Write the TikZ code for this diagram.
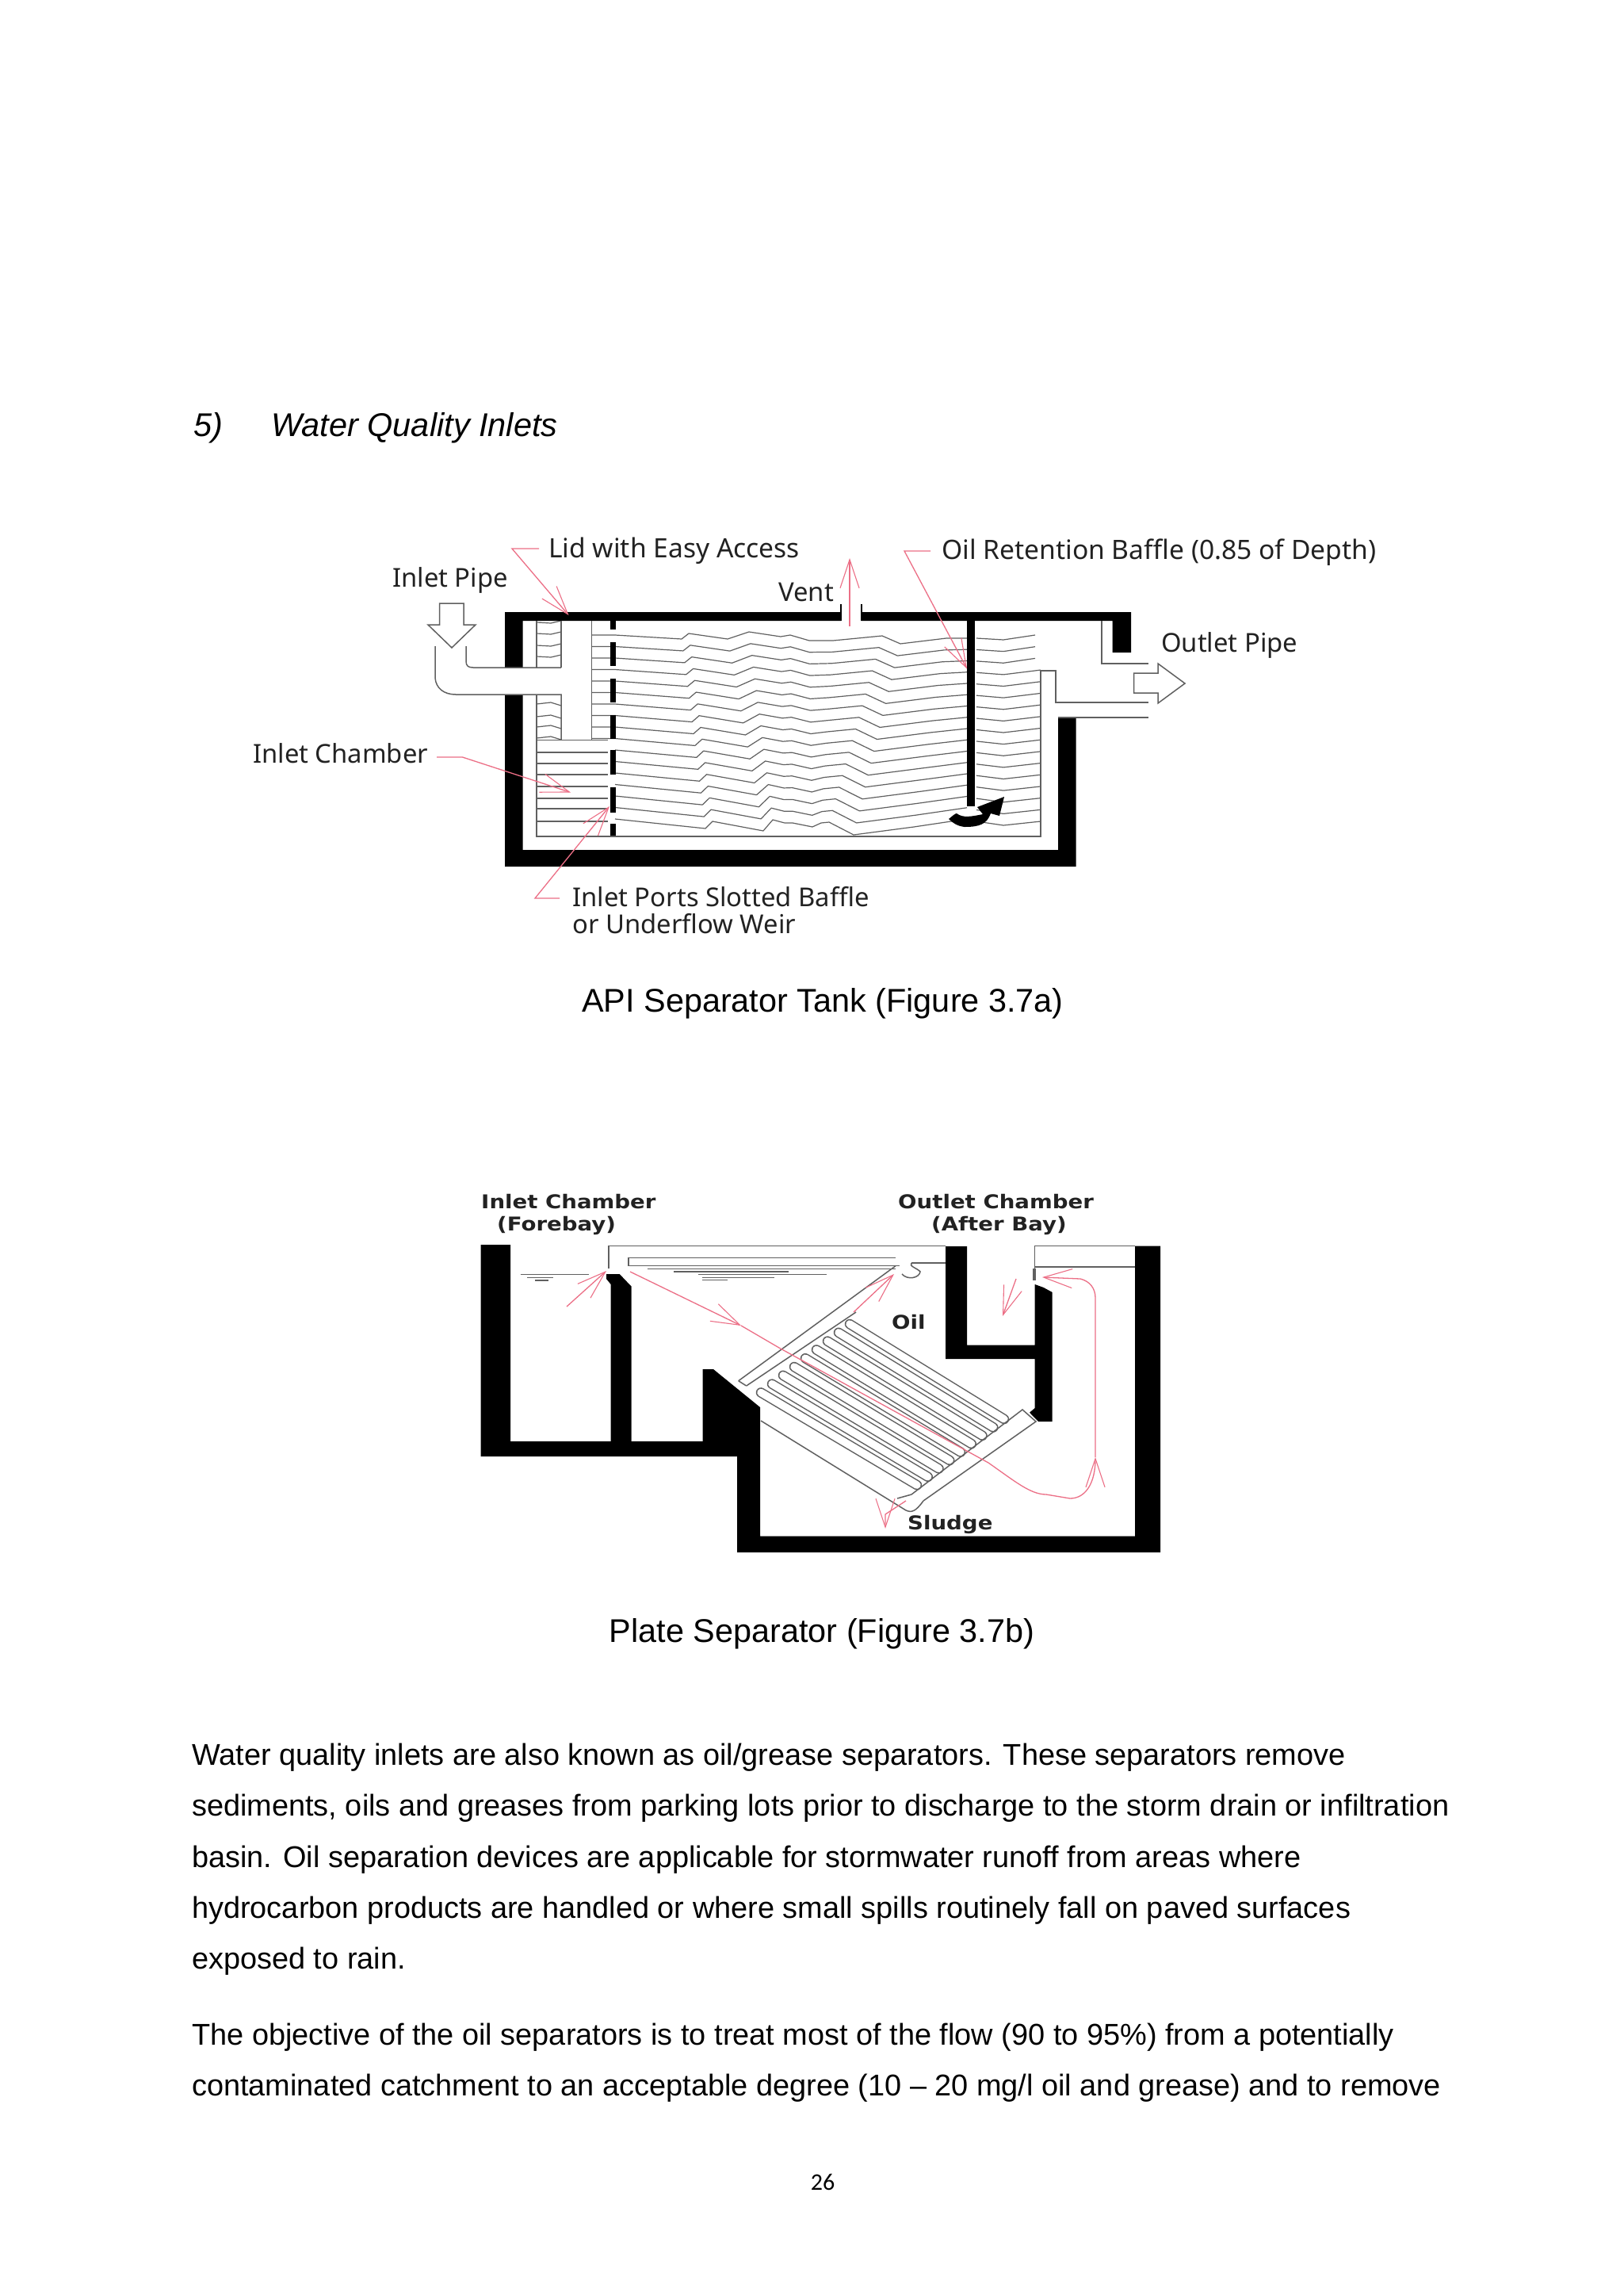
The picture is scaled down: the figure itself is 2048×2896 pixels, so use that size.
\documentclass[tikz,border=0pt]{standalone}
\usepackage{fontspec}
\setmainfont{Liberation Sans}
\newfontfamily\lblfont{Noto Sans}
\newfontfamily\widefont{DejaVu Sans}
\newfontfamily\numfont{Carlito}
\usetikzlibrary{arrows.meta}
\definecolor{flowred}{HTML}{EC6F86}
\definecolor{thinline}{HTML}{606060}
\definecolor{lbl}{HTML}{222222}
\tikzset{
  wall/.style={fill=black,draw=none},
  thin line/.style={draw=thinline,line width=1.5pt},
  wave/.style={draw=thinline,line width=1.2pt,line join=round},
  leader/.style={draw=flowred,line width=1.3pt,-{Straight Barb[length=36pt,width=24pt,line width=1.1pt]}},
  body/.style={anchor=base west,inner sep=0pt,font=\fontsize{37.9}{46}\selectfont,text=black},
  label/.style={anchor=base west,inner sep=0pt,font=\lblfont\fontsize{33.6}{40}\selectfont,text=lbl},
  labelb/.style={anchor=base west,inner sep=0pt,font=\lblfont\fontsize{32.8}{40}\selectfont,text=lbl},
  widelabel/.style={anchor=base west,inner sep=0pt,xscale=1.15,transform shape,font=\widefont\bfseries\fontsize{24}{28}\selectfont,text=lbl},
  capt/.style={anchor=base,inner sep=0pt,font=\fontsize{41.4}{50}\selectfont,text=black}
}
\begin{document}
\begin{tikzpicture}[x=1pt,y=-1pt]
\path[use as bounding box,fill=white] (0,0) rectangle (2048,2896);

% ---------- page text
\node[body,font=\itshape\fontsize{41.5}{50}\selectfont] (h1) at (244,550) {5)};
\node[body,font=\itshape\fontsize{41.5}{50}\selectfont] (h2) at (342,550) {Water Quality Inlets};
\node[capt] (c1) at (1038,1276) {API Separator Tank (Figure 3.7a)};
\node[capt] (c2) at (1037,2071) {Plate Separator (Figure 3.7b)};
\node[body] (p1) at (242,2226) {Water quality inlets are also known as oil/grease separators. These separators remove};
\node[body] (p2) at (242,2290) {sediments, oils and greases from parking lots prior to discharge to the storm drain or infiltration};
\node[body] (p3) at (242,2355) {basin. Oil separation devices are applicable for stormwater runoff from areas where};
\node[body] (p4) at (242,2419) {hydrocarbon products are handled or where small spills routinely fall on paved surfaces};
\node[body] (p5) at (242,2483) {exposed to rain.};
\node[body] (p6) at (242,2579) {The objective of the oil separators is to treat most of the flow (90 to 95\%) from a potentially};
\node[body] (p7) at (242,2643) {contaminated catchment to an acceptable degree (10 -- 20 mg/l oil and grease) and to remove};
\node[anchor=base,inner sep=0pt,font=\numfont\fontsize{30}{36}\selectfont] (pg) at (1038,2762) {26};

% ---------- Figure a: water lines
\foreach \i in {0,...,16}{
  \pgfmathsetmacro{\t}{\i/16}
  \pgfmathsetmacro{\yb}{801+14.5*\i}
  \pgfmathsetmacro{\xs}{\i<10 ? 746.5 : 776}
  \pgfmathsetmacro{\xe}{\i<3 ? 1306 : 1313}
  \draw[wave] (\xs,\yb) -- (776,\yb)
    -- ({860+30*\t},{\yb+5+7*\t}) -- ({869+30*\t},{\yb-2+5*\t})
    -- ({918+45*\t},{\yb+5+10*\t}) -- ({945+30*\t},{\yb-4+5*\t})
    -- ({985+5*\t},{\yb+2+3*\t}) -- ({997+3*\t},{\yb+0+5*\t}) -- ({1021+4*\t},{\yb+7+3*\t})
    -- ({1051-15*\t},{\yb+7-2*\t}) -- ({1113-67*\t},{\yb+1+3*\t})
    -- ({1136-59*\t},{\yb+11+9*\t}) -- ({1194-41*\t},{\yb+4+6*\t})
    -- (1220,{\yb+4-4*\t});
  \draw[wave] (1232,{\yb+4-1*\t}) -- (1266,{\yb+6+2*\t}) -- (\xe,{\yb+0+3*\t});
}
% chamber lines
\foreach \yy in {949,963,977,992,1007,1020,1036}{
  \draw[wave] (677,\yy) -- (767,\yy);
}
% riser wobbly lines
\foreach \yy in {785,799,814,828}{
  \draw[wave] (677,\yy) -- (695,\yy+1) -- (708,\yy-2);
}
\foreach \yy in {888,904,917,931}{
  \draw[wave] (677,\yy) -- (695,\yy-2) -- (708,\yy+2);
}
% ---------- Figure a: walls
\fill[wall] (637,772) -- (1061,772) -- (1061,783) -- (659.5,783) -- (659.5,842) -- (637,842) -- cycle;
\fill[wall] (1087,772) -- (1427,772) -- (1427,823) -- (1403.5,823) -- (1403.5,783) -- (1087,783) -- cycle;
\fill[wall] (637,876) -- (659.5,876) -- (659.5,1072) -- (1335,1072) -- (1335,905) -- (1357.5,905) -- (1357.5,1093) -- (637,1093) -- cycle;
\draw[thin line,draw=black] (1061,762) -- (1061,783);
\draw[thin line,draw=black] (1087,762) -- (1087,783);
\fill[wall] (1220,783) rectangle (1230,1017);
\foreach \ya/\yb in {783/794,810/840,856/886,902/932,946/977,993/1025,1039/1055}{
  \fill[wall] (770,\ya) rectangle (776.5,\yb);
}
% curved black flow arrow
\fill[wall] (1197,1033) .. controls (1202,1029) and (1205,1026) .. (1207,1026)
  .. controls (1215,1032) and (1225,1030) .. (1240,1027) -- (1233,1018) -- (1267,1005)
  -- (1261,1029) -- (1250,1026) .. controls (1245,1040) and (1235,1043) .. (1217,1043)
  .. controls (1208,1042) and (1202,1038) .. (1197,1033) -- cycle;
% pipes
\draw[thin line] (677,783) -- (677,842);
\draw[thin line] (708,783) -- (708,842);
\draw[thin line] (588,815) -- (588,834) .. controls (588,840) and (591,842) .. (597,842) -- (708,842);
\draw[thin line] (549,815) -- (549,855) .. controls (550,868) and (560,876) .. (575,876) -- (708,876) -- (708,933.5);
\draw[thin line] (746.5,783) -- (746.5,933.5);
\draw[thin line] (677,933.5) -- (767,933.5);
\draw[thin line] (677,876) -- (677,1055) -- (1313,1055) -- (1313,846) -- (1332,846) -- (1332,886) -- (1449,886);
\draw[thin line] (1335,905) -- (1449,905);
\draw[thin line] (1390,783) -- (1390,837) -- (1449,837);
% hollow arrows
\draw[thin line,line join=miter] (554.5,761) -- (585,761) -- (585,788) -- (600,788) -- (570,817) -- (540,788) -- (554.5,788) -- cycle;
\draw[thin line,line join=miter] (1430.5,849) -- (1461,849) -- (1461,837) -- (1495,862) -- (1461,887) -- (1461,874) -- (1430.5,874) -- cycle;

% ---------- Figure a: labels
\node[label] (lid) at (692,703) {Lid with Easy Access};
\node[labelb] (ipipe) at (495,740) {Inlet Pipe};
\node[labelb] (vent) at (982,758) {Vent};
\node[label] (baffle) at (1188,705) {Oil Retention Baffle (0.85 of Depth)};
\node[labelb] (opipe) at (1465,822) {Outlet Pipe};
\node[labelb] (ichamb) at (319,962) {Inlet Chamber};
\node[labelb] (iports) at (722,1143) {Inlet Ports Slotted Baffle};
\node[labelb] (weir) at (722,1177) {or Underflow Weir};

% leaders
\coordinate (lidtip) at (717.5,776);
\coordinate (chambertip) at (720,999.5);
\coordinate (porttip) at (769,1017);
\coordinate (baffletip) at (1220,843.5);
\coordinate (ventfoot) at (1072,790);
\coordinate (venttip) at (1072,704);
\draw[leader] (680,692) -- (646,692) -- (lidtip);
\draw[leader] (551,955) -- (583.5,955) -- (chambertip);
\draw[leader] (706,1133) -- (675,1133) -- (porttip);
\draw[leader] (1174,695) -- (1141,695) -- (baffletip);
\draw[leader] (ventfoot) -- (venttip);

% ---------- Figure b: walls
\fill[wall] (606.7,1570) -- (644,1570) -- (644,1818) -- (770.7,1818) -- (770.7,1620) -- (765,1613) -- (765,1607) -- (781.7,1607) -- (796.7,1622.7) -- (796.7,1818) -- (886.7,1818) -- (886.7,1727) -- (900,1727) -- (959,1775) -- (959,1937.7) -- (1432,1937.7) -- (1432,1571.7) -- (1464,1571.7) -- (1464,1958) -- (930,1958) -- (930,1837) -- (606.7,1837) -- cycle;
\fill[wall] (1193,1572) -- (1220,1572) -- (1220,1696.7) -- (1305.7,1696.7) -- (1305.7,1620) -- (1316.7,1624) -- (1327.7,1630) -- (1327.7,1793) -- (1310,1793) -- (1299,1781.7) -- (1305.7,1776) -- (1305.7,1714) -- (1193,1714) -- cycle;

% thin lines
\draw[thin line] (768,1600) -- (768,1571.7) -- (1193,1571.7);
\draw[thin line] (1130,1586.7) -- (793,1586.7) -- (793,1596.7) -- (1135,1596.7);
\draw[thin line] (816.7,1600.7) -- (1130,1600.7);
\draw[thin line] (881,1607.7) -- (1043,1607.7);
\draw[thin line] (850,1604) -- (995,1604);
\draw[thin line] (886,1611.7) -- (977,1611.7);
\draw[thin line] (886,1614.5) -- (918,1614.5);
\draw[thin line] (656.7,1607.7) -- (743,1607.7);
\draw[thin line] (665,1611.7) -- (698,1611.7);
\draw[thin line] (675,1615) -- (691.7,1615);
\draw[thin line] (1150,1593) -- (1193,1593);
\draw[thin line] (1150,1593) .. controls (1146,1597) and (1158,1600) .. (1161,1604) .. controls (1160,1612) and (1145,1615) .. (1138,1607);
\draw[thin line] (1305.7,1600) -- (1305.7,1571.7) -- (1432,1571.7);
\draw[thin line] (1305.7,1598) -- (1432,1598);
\draw[line width=4pt,draw=thinline] (1305,1600) -- (1305,1615);

% plates
\foreach \i in {0,...,8}{
  \coordinate (pa\i) at ({1072-14*\i},{1670+10.8*\i});
  \coordinate (pb\i) at ({1267-13.75*\i},{1790+10.4*\i});
  \draw[draw=thinline,line width=12.5pt,line cap=round] (pa\i) -- (pb\i);
  \draw[draw=white,line width=9.5pt,line cap=round] (pa\i) -- (pb\i);
}
% manifolds
\draw[thin line] (931.7,1741.7) -- (1130,1596.7);
\draw[thin line] (941.7,1748) -- (1080,1655);
\draw[thin line] (931.7,1741.7) -- (941.7,1748);
\draw[thin line] (1150,1885) -- (1290,1778) -- (1307,1793) -- (1165,1893);
\draw[thin line] (960,1792) -- (1143,1905) .. controls (1150,1908) and (1155,1907) .. (1165,1893);
\draw[thin line] (1132,1890) -- (1150,1885);

% labels
\node[widelabel] (binlet) at (607,1524) {Inlet Chamber};
\node[widelabel] (bfore) at (627,1552) {(Forebay)};
\node[widelabel] (boutlet) at (1133,1524) {Outlet Chamber};
\node[widelabel] (bafter) at (1175,1552) {(After Bay)};
\node[widelabel] (boil) at (1125,1676) {Oil};
\node[widelabel] (bsludge) at (1145,1929) {Sludge};

% flow arrows
\coordinate (f0) at (795,1604);
\coordinate (f1) at (935,1672);
\coordinate (f2) at (1315,1611);
\coordinate (u1) at (1382,1838);
\draw[leader] (715,1648) -- (765,1603);
\draw[leader] (f0) -- (f1);
\draw[leader] (f1) -- (983,1700) -- (1247,1845) .. controls (1280,1868) and (1300,1885) .. (1320,1885) -- (1350,1890) .. controls (1370,1890) and (1382,1870) .. (u1);
\draw[leader] (u1) -- (1382,1637) .. controls (1382,1625) and (1375,1616) .. (1363,1613) -- (f2);
\draw[leader] (1077,1655) -- (1128,1607);
\draw[leader] (1282,1613) -- (1265,1660);
\draw[leader] (1143,1893) -- (1117,1910) -- (1117,1928);
\end{tikzpicture}
\end{document}
